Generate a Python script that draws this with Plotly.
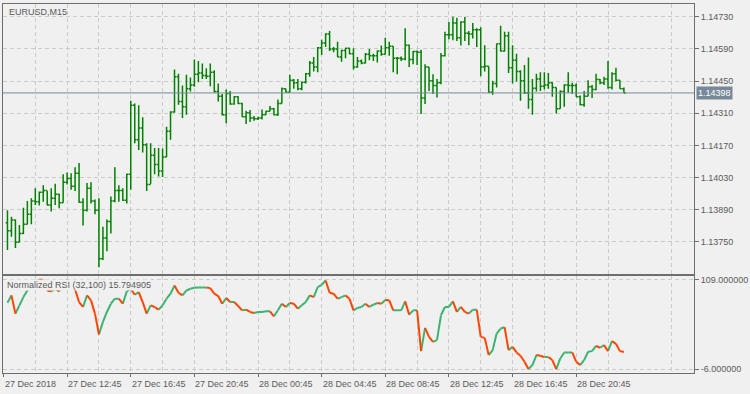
import plotly.graph_objects as go

# ---------------- data (prices in points, 1 point = 0.00001) ----------------
bar_index = list(range(156))

open_pts = [113833, 113798, 113845, 113749, 113787, 113827, 113870, 113928, 113925, 113966,
            113974, 113911, 113940, 113957, 113920, 114009, 114026, 113992, 114049, 113922,
            113888, 113983, 113928, 113888, 113677, 113767, 113839, 113928, 113974, 113974,
            113931, 114044, 114344, 114194, 114246, 114173, 114000, 114127, 114087, 114058,
            114119, 114231, 114315, 114468, 114361, 114338, 114416, 114433, 114479, 114485,
            114474, 114471, 114488, 114404, 114384, 114303, 114396, 114350, 114381, 114352,
            114295, 114312, 114289, 114286, 114289, 114303, 114318, 114329, 114303, 114352,
            114416, 114401, 114453, 114442, 114416, 114445, 114482, 114528, 114511, 114595,
            114615, 114655, 114589, 114589, 114554, 114583, 114592, 114569, 114511, 114537,
            114528, 114566, 114560, 114560, 114580, 114566, 114595, 114601, 114549, 114549,
            114546, 114606, 114543, 114578, 114575, 114376, 114511, 114451, 114430, 114442,
            114560, 114651, 114651, 114702, 114638, 114707, 114658, 114655, 114673, 114673,
            114511, 114514, 114401, 114439, 114612, 114580, 114647, 114508, 114540, 114491,
            114451, 114399, 114370, 114419, 114459, 114427, 114433, 114442, 114422, 114329,
            114404, 114433, 114430, 114430, 114381, 114347, 114384, 114425, 114413, 114456,
            114442, 114459, 114422, 114482, 114453, 114416]

high_pts = [113888, 113859, 113847, 113824, 113899, 113928, 113940, 113983, 113969, 113997,
            113971, 113983, 114003, 113960, 114044, 114052, 114049, 114075, 114093, 113940,
            114006, 114009, 113934, 113940, 113816, 113847, 113948, 114075, 113997, 113983,
            114047, 114364, 114352, 114344, 114292, 114179, 114179, 114159, 114159, 114156,
            114251, 114318, 114500, 114482, 114430, 114477, 114465, 114543, 114537, 114526,
            114505, 114526, 114497, 114439, 114393, 114413, 114407, 114384, 114384, 114355,
            114321, 114324, 114298, 114295, 114326, 114321, 114341, 114332, 114370, 114422,
            114416, 114477, 114459, 114459, 114448, 114485, 114537, 114554, 114598, 114629,
            114658, 114667, 114598, 114621, 114586, 114595, 114595, 114592, 114554, 114543,
            114572, 114589, 114569, 114583, 114604, 114638, 114621, 114601, 114554, 114557,
            114679, 114609, 114580, 114583, 114586, 114523, 114511, 114479, 114459, 114572,
            114664, 114707, 114730, 114725, 114710, 114728, 114667, 114702, 114679, 114684,
            114606, 114514, 114451, 114612, 114690, 114664, 114664, 114606, 114569, 114497,
            114520, 114552, 114459, 114482, 114488, 114488, 114485, 114445, 114422, 114410,
            114436, 114488, 114442, 114439, 114387, 114407, 114453, 114433, 114482, 114459,
            114468, 114537, 114488, 114508, 114453, 114422]

low_pts = [113715, 113772, 113723, 113749, 113784, 113827, 113827, 113911, 113908, 113925,
           113908, 113882, 113911, 113896, 113920, 114000, 113977, 113971, 113920, 113821,
           113882, 113917, 113870, 113640, 113671, 113709, 113787, 113922, 113925, 113928,
           113917, 113977, 114179, 114150, 114139, 113971, 114003, 114044, 114035, 114032,
           114119, 114194, 114312, 114347, 114289, 114303, 114404, 114425, 114445, 114459,
           114459, 114427, 114399, 114361, 114300, 114266, 114347, 114347, 114350, 114295,
           114263, 114272, 114277, 114280, 114283, 114303, 114318, 114300, 114298, 114352,
           114399, 114401, 114416, 114410, 114410, 114439, 114468, 114491, 114488, 114563,
           114598, 114580, 114575, 114554, 114534, 114549, 114566, 114500, 114508, 114523,
           114526, 114540, 114537, 114531, 114560, 114566, 114560, 114488, 114479, 114537,
           114540, 114511, 114523, 114520, 114306, 114350, 114407, 114393, 114378, 114436,
           114557, 114632, 114627, 114624, 114604, 114624, 114606, 114635, 114598, 114471,
           114491, 114399, 114390, 114422, 114578, 114578, 114485, 114439, 114448, 114364,
           114393, 114329, 114303, 114404, 114407, 114413, 114416, 114381, 114309, 114329,
           114338, 114399, 114393, 114381, 114344, 114338, 114384, 114376, 114410, 114436,
           114433, 114416, 114413, 114448, 114416, 114398]

close_pts = [113798, 113845, 113749, 113787, 113827, 113870, 113928, 113925, 113966, 113974,
             113911, 113940, 113957, 113920, 114009, 114026, 113992, 114049, 113922, 113888,
             113983, 113928, 113888, 113677, 113767, 113839, 113928, 113974, 113974, 113931,
             114044, 114344, 114194, 114246, 114173, 114000, 114127, 114087, 114058, 114119,
             114231, 114315, 114468, 114361, 114338, 114416, 114433, 114479, 114485, 114474,
             114471, 114488, 114404, 114384, 114303, 114396, 114350, 114381, 114352, 114295,
             114312, 114289, 114286, 114289, 114303, 114318, 114329, 114303, 114352, 114416,
             114401, 114453, 114442, 114416, 114445, 114482, 114528, 114511, 114595, 114615,
             114655, 114589, 114589, 114554, 114583, 114592, 114569, 114511, 114537, 114528,
             114566, 114560, 114560, 114580, 114566, 114595, 114601, 114549, 114549, 114546,
             114606, 114543, 114578, 114575, 114376, 114511, 114451, 114430, 114442, 114560,
             114651, 114651, 114702, 114638, 114707, 114658, 114655, 114673, 114673, 114511,
             114514, 114401, 114439, 114612, 114580, 114647, 114508, 114540, 114491, 114451,
             114399, 114370, 114419, 114459, 114427, 114433, 114442, 114422, 114329, 114404,
             114433, 114430, 114430, 114381, 114347, 114384, 114425, 114413, 114456, 114442,
             114459, 114422, 114482, 114453, 114416, 114398]

rsi = [79.2, 88.6, 65.1, 75.8, 86.4, 94.9, 101.3, 105.6, 109.0, 108.5,
       94.9, 93.7, 97.1, 93.7, 105.6, 108.5, 103.5, 96.2, 80.0, 73.7,
       88.6, 82.2, 65.1, 38.3, 54.5, 67.3, 77.9, 84.3, 84.3, 77.9,
       93.7, 97.1, 89.4, 92.8, 80.0, 65.1, 75.8, 73.7, 70.2, 75.8,
       84.3, 90.7, 101.3, 92.0, 88.6, 94.9, 97.1, 98.4, 98.8, 98.8,
       98.8, 97.9, 90.7, 87.7, 77.9, 85.2, 80.0, 80.0, 74.9, 69.4,
       70.2, 67.3, 66.0, 67.3, 67.3, 68.1, 68.1, 61.7, 69.4, 77.9,
       73.7, 78.8, 77.9, 71.5, 75.8, 80.0, 88.6, 86.4, 99.2, 102.2,
       107.7, 92.0, 90.7, 84.3, 86.4, 88.6, 84.3, 69.4, 72.4, 73.7,
       77.9, 73.7, 76.6, 78.8, 77.9, 82.6, 82.2, 69.4, 69.4, 69.4,
       80.9, 63.9, 69.4, 69.4, 17.0, 46.8, 35.3, 28.9, 31.1, 63.0,
       73.7, 73.7, 80.9, 67.3, 73.7, 67.3, 65.1, 70.2, 70.2, 35.3,
       34.0, 11.9, 18.3, 39.6, 46.0, 47.7, 18.3, 22.5, 15.3, 11.0,
       3.4, -6.0, -0.9, 11.9, 11.0, 9.3, 9.3, 5.5, -6.0, 7.6,
       15.3, 15.3, 15.3, 3.4, -0.9, 5.5, 16.2, 17.0, 23.8, 21.3,
       24.7, 17.0, 29.8, 26.4, 17.0, 15.79]

price_ticks = [1.13750, 1.13890, 1.14030, 1.14170, 1.14310, 1.14450, 1.14590, 1.14730]
last_price = 1.14398
x_label_pos = [-1, 15, 31, 47, 63, 79, 95, 111, 127, 143]
x_labels = ["27 Dec 2018", "27 Dec 12:45", "27 Dec 16:45", "27 Dec 20:45", "28 Dec 00:45",
            "28 Dec 04:45", "28 Dec 08:45", "28 Dec 12:45", "28 Dec 16:45", "28 Dec 20:45"]
x_grid_pos = [7, 23, 39, 55, 71, 87, 103, 119, 135, 151, 167]
rsi_ticks = [-6, 109]
rsi_tick_text = ["-6.000000", "109.000000"]
symbol_title = "EURUSD,M15"
rsi_title = "Normalized RSI (32,100) 15.794905"

assert len(open_pts) == len(high_pts) == len(low_pts) == len(close_pts) == len(rsi) == len(bar_index)

# ---------------- style ----------------
GRID = "#cbcbcb"
AX = "#6e6e6e"
TXT = "#5a5a5a"
BG = "#f0f0f0"
BAR = "#008000"
UP = "#3cb371"
DN = "#ff4500"
FONT = "Liberation Sans"
DASH = "4px,3px"
XR = [-1.125, 172.625]   # 4 px per bar, bars on half-pixel centres for crisp lines

fig = go.Figure()
fig.add_trace(go.Ohlc(
    x=bar_index,
    open=[v / 1e5 for v in open_pts], high=[v / 1e5 for v in high_pts],
    low=[v / 1e5 for v in low_pts], close=[v / 1e5 for v in close_pts],
    increasing=dict(line=dict(color=BAR, width=1.5)),
    decreasing=dict(line=dict(color=BAR, width=1.5)),
    tickwidth=0.45, hoverinfo="skip", xaxis="x", yaxis="y"))

up_x, up_y, dn_x, dn_y = [], [], [], []
for i in range(1, len(rsi)):
    if rsi[i] >= rsi[i - 1]:
        up_x += [bar_index[i - 1], bar_index[i], None]
        up_y += [rsi[i - 1], rsi[i], None]
    else:
        dn_x += [bar_index[i - 1], bar_index[i], None]
        dn_y += [rsi[i - 1], rsi[i], None]
fig.add_trace(go.Scatter(x=up_x, y=up_y, mode="lines", line=dict(color=UP, width=2),
                         hoverinfo="skip", xaxis="x2", yaxis="y2"))
fig.add_trace(go.Scatter(x=dn_x, y=dn_y, mode="lines", line=dict(color=DN, width=2),
                         hoverinfo="skip", xaxis="x2", yaxis="y2"))

common_x = dict(range=XR, tickmode="array", tickvals=x_label_pos, showticklabels=False,
                showgrid=True, gridcolor=GRID, griddash=DASH, gridwidth=1,
                minor=dict(tickmode="array", tickvals=x_grid_pos, showgrid=True,
                           gridcolor=GRID, griddash=DASH, gridwidth=1, ticks=""),
                showline=True, linecolor=AX, linewidth=1, mirror=True, zeroline=False)

fig.update_layout(
    width=750, height=394, margin=dict(l=2, r=53, t=2, b=21),
    paper_bgcolor=BG, plot_bgcolor=BG, showlegend=False,
    font=dict(family=FONT, size=9, color=TXT),
    xaxis=dict(domain=[0, 1], anchor="y", rangeslider=dict(visible=False), ticks="", **common_x),
    xaxis2=dict(domain=[0, 1], anchor="y2", matches="x", ticks="outside", ticklen=3,
                tickcolor=AX, **common_x),
    yaxis=dict(domain=[0.2687, 1], anchor="x", side="right", range=[1.13611, 1.14785],
               tickmode="array", tickvals=price_ticks,
               ticktext=[f"{t:.5f}" for t in price_ticks],
               ticks="outside", ticklen=4, tickcolor=AX,
               showgrid=True, gridcolor=GRID, griddash=DASH,
               showline=True, linecolor=AX, linewidth=1, mirror=True, zeroline=False),
    yaxis2=dict(domain=[0, 0.2623], anchor="x2", side="right", range=[-11.1, 113.2],
                tickmode="array", tickvals=rsi_ticks, ticktext=rsi_tick_text,
                ticks="outside", ticklen=4, tickcolor=AX,
                showgrid=True, gridcolor=GRID, griddash=DASH,
                showline=True, linecolor=AX, linewidth=1, mirror=True, zeroline=False),
)

fig.add_shape(type="line", xref="x domain", x0=0, x1=1, yref="y", y0=last_price, y1=last_price,
              line=dict(color="#778899", width=1))

annotations = [
    dict(text=symbol_title, xref="paper", x=0, xanchor="left", xshift=4,
         yref="paper", y=1, yanchor="top", yshift=-1, showarrow=False,
         font=dict(family=FONT, size=9, color=TXT)),
    dict(text=rsi_title, xref="paper", x=0, xanchor="left", xshift=3,
         yref="paper", y=0.2623, yanchor="top", yshift=-3, showarrow=False,
         bgcolor=BG, borderpad=0, font=dict(family=FONT, size=9, color=TXT)),
    dict(text=f"{last_price:.5f}", xref="paper", x=1, xanchor="left", xshift=2,
         yref="y", y=last_price, yanchor="middle", showarrow=False,
         bgcolor="#778899", borderpad=1, font=dict(family=FONT, size=9, color="#ffffff")),
]
for pos, lab in zip(x_label_pos, x_labels):
    annotations.append(dict(text=lab, xref="x2", x=pos, xanchor="left", xshift=-1,
                            yref="paper", y=0, yanchor="top", yshift=-4, showarrow=False,
                            font=dict(family=FONT, size=9, color=TXT)))
fig.update_layout(annotations=annotations)

fig.write_html("out.html")
